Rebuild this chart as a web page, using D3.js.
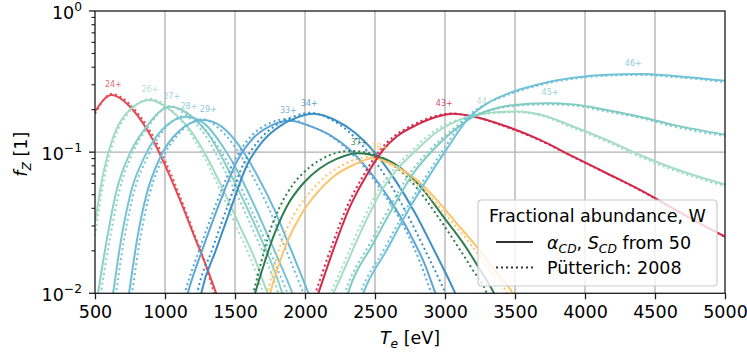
<!DOCTYPE html>
<html>
<head>
<meta charset="utf-8">
<script src="https://cdn.jsdelivr.net/npm/d3@7"></script>
<style>
    body { margin: 0; background: #fff; }
    svg { font-family: "DejaVu Sans", sans-serif; }
</style>
</head>
<body>
<div id="chart"></div>
<script>
// ---- data: [Te (eV), fractional abundance] ----
// cd = alpha_CD, S_CD from 50 (solid), pu = Puetterich 2008 (dotted)
const cd24 = [[500,0.194],[619,0.254],[771,0.199],[914,0.122],[1000,0.081],[1107,0.0459],[1214,0.0247],[1286,0.0164],[1364,0.0101],[1393,0.0084]];
const pu24 = [[500,0.187],[619,0.258],[786,0.199],[929,0.122],[1014,0.081],[1114,0.0466],[1214,0.0255],[1279,0.017],[1343,0.0106],[1364,0.009]];
const cd26 = [[500,0.0315],[559,0.0709],[631,0.129],[726,0.189],[893,0.234],[1036,0.199],[1179,0.144],[1298,0.0929],[1416,0.054],[1536,0.0297],[1636,0.0181],[1729,0.0102],[1750,0.009]];
const pu26 = [[500,0.0255],[564,0.0636],[636,0.122],[736,0.187],[893,0.238],[1029,0.206],[1164,0.144],[1279,0.0925],[1393,0.054],[1507,0.030],[1607,0.0181],[1700,0.0102],[1721,0.009]];
const cd27 = [[515,0.009],[524,0.0103],[584,0.0239],[655,0.054],[750,0.0983],[869,0.152],[1036,0.210],[1179,0.183],[1321,0.129],[1441,0.0789],[1559,0.0459],[1679,0.0252],[1798,0.0131],[1834,0.0103],[1853,0.009]];
const pu27 = [[537,0.009],[545,0.0103],[605,0.0239],[676,0.054],[768,0.0983],[882,0.152],[1036,0.212],[1150,0.183],[1293,0.129],[1412,0.0789],[1531,0.0459],[1650,0.0252],[1769,0.0131],[1805,0.0103],[1825,0.009]];
const cd28 = [[622,0.009],[629,0.01],[686,0.0239],[757,0.0523],[857,0.094],[979,0.144],[1155,0.178],[1286,0.158],[1407,0.112],[1521,0.0724],[1643,0.0409],[1764,0.022],[1886,0.0115],[1921,0.0094]];
const pu28 = [[643,0.009],[650,0.01],[707,0.0239],[779,0.0523],[879,0.094],[993,0.144],[1150,0.181],[1250,0.158],[1371,0.112],[1486,0.0724],[1607,0.0409],[1729,0.022],[1850,0.0115],[1886,0.0094]];
const cd29 = [[736,0.009],[743,0.01],[800,0.0239],[871,0.0514],[964,0.091],[1093,0.139],[1274,0.169],[1407,0.151],[1536,0.109],[1657,0.069],[1779,0.0396],[1900,0.0203],[2007,0.0111],[2043,0.009]];
const pu29 = [[757,0.009],[764,0.01],[821,0.0239],[892,0.0514],[985,0.091],[1110,0.139],[1270,0.171],[1371,0.151],[1500,0.109],[1621,0.069],[1743,0.0396],[1864,0.0203],[1971,0.0111],[2007,0.009]];
const cd33 = [[1150,0.009],[1166,0.0103],[1274,0.0213],[1393,0.0444],[1512,0.0853],[1631,0.126],[1750,0.153],[1893,0.167],[2036,0.153],[2179,0.132],[2321,0.104],[2464,0.0724],[2607,0.0459],[2750,0.0264],[2857,0.0159],[2929,0.0102],[2950,0.009]];
const pu33 = [[1129,0.009],[1145,0.0103],[1252,0.0213],[1371,0.0444],[1491,0.0853],[1609,0.128],[1729,0.157],[1879,0.172],[2014,0.156],[2157,0.135],[2300,0.105],[2443,0.0737],[2586,0.0467],[2729,0.0268],[2829,0.0159],[2900,0.0102],[2921,0.009]];
const cd34 = [[1250,0.009],[1262,0.0103],[1364,0.0203],[1479,0.0423],[1586,0.0811],[1693,0.118],[1821,0.153],[1936,0.175],[2059,0.187],[2214,0.169],[2357,0.137],[2500,0.0987],[2643,0.0636],[2786,0.0371],[2929,0.0196],[3036,0.012],[3086,0.0094]];
const pu34 = [[1221,0.009],[1233,0.0103],[1336,0.0203],[1450,0.0423],[1557,0.0811],[1664,0.119],[1793,0.155],[1914,0.178],[2036,0.190],[2179,0.172],[2314,0.139],[2450,0.1],[2586,0.0646],[2721,0.0377],[2857,0.0203],[2964,0.0122],[3014,0.0095]];
const cd37 = [[1629,0.009],[1643,0.01],[1702,0.0155],[1774,0.0252],[1869,0.0411],[1988,0.0602],[2107,0.0769],[2226,0.0895],[2369,0.0983],[2559,0.0905],[2702,0.0748],[2845,0.054],[2988,0.0349],[3131,0.0226],[3250,0.0147],[3357,0.0097],[3379,0.0087]];
const pu37 = [[1614,0.009],[1629,0.01],[1679,0.0155],[1736,0.0252],[1821,0.0411],[1921,0.0602],[2036,0.0785],[2164,0.094],[2321,0.102],[2500,0.0955],[2650,0.0785],[2793,0.0567],[2936,0.0365],[3071,0.0231],[3193,0.0149],[3300,0.0099],[3321,0.0087]];
const cd38 = [[1736,0.009],[1750,0.01],[1809,0.0155],[1869,0.0226],[1964,0.0349],[2084,0.0512],[2202,0.067],[2345,0.0811],[2488,0.0905],[2655,0.0789],[2798,0.0636],[2941,0.0459],[3084,0.0313],[3226,0.0214],[3369,0.0139],[3488,0.0097],[3507,0.0087]];
const pu38 = [[1714,0.009],[1729,0.01],[1779,0.0155],[1829,0.0226],[1914,0.0349],[2029,0.0512],[2150,0.0678],[2293,0.0832],[2450,0.0925],[2614,0.0811],[2757,0.0651],[2900,0.0474],[3043,0.0326],[3186,0.022],[3329,0.0142],[3443,0.0099],[3464,0.0087]];
const cd43 = [[2079,0.009],[2095,0.01],[2202,0.0203],[2321,0.0411],[2441,0.069],[2559,0.104],[2655,0.129],[2798,0.156],[2941,0.178],[3059,0.187],[3202,0.179],[3441,0.152],[3679,0.122],[3916,0.0929],[4155,0.0709],[4393,0.054],[4774,0.0331],[5000,0.0252]];
const pu43 = [[2058,0.009],[2074,0.01],[2181,0.0203],[2300,0.0411],[2420,0.069],[2538,0.104],[2634,0.129],[2777,0.157],[2920,0.179],[3036,0.188],[3186,0.180],[3429,0.152],[3671,0.122],[3914,0.0925],[4155,0.0707],[4393,0.0537],[4774,0.0329],[5000,0.0251]];
const cd44 = [[2179,0.009],[2202,0.01],[2416,0.0297],[2536,0.0512],[2655,0.0748],[2798,0.104],[2941,0.139],[3084,0.166],[3179,0.179],[3321,0.190],[3512,0.194],[3679,0.185],[3916,0.152],[4155,0.122],[4393,0.0955],[4631,0.0769],[5000,0.059]];
const pu44 = [[2157,0.009],[2180,0.01],[2393,0.0297],[2511,0.0512],[2629,0.0748],[2771,0.104],[2918,0.140],[3064,0.166],[3179,0.179],[3321,0.188],[3512,0.192],[3679,0.182],[3916,0.148],[4155,0.119],[4393,0.0925],[4631,0.0748],[5000,0.0572]];
const cd45 = [[2293,0.009],[2307,0.01],[2488,0.0226],[2631,0.0411],[2774,0.0709],[2916,0.104],[3059,0.141],[3179,0.173],[3321,0.199],[3464,0.214],[3726,0.222],[3916,0.218],[4155,0.199],[4393,0.178],[4631,0.156],[5000,0.133]];
const pu45 = [[2272,0.009],[2286,0.01],[2464,0.0226],[2607,0.0411],[2750,0.0709],[2893,0.104],[3039,0.141],[3164,0.175],[3321,0.197],[3464,0.211],[3726,0.218],[3916,0.214],[4155,0.194],[4393,0.175],[4631,0.152],[5000,0.130]];
const cd46 = [[2400,0.009],[2416,0.01],[2584,0.0203],[2726,0.0369],[2869,0.0636],[3012,0.105],[3164,0.172],[3293,0.219],[3441,0.258],[3679,0.304],[3916,0.336],[4155,0.354],[4393,0.358],[4631,0.347],[5000,0.321]];
const pu46 = [[2379,0.009],[2395,0.01],[2562,0.0203],[2705,0.0369],[2848,0.0636],[2991,0.105],[3143,0.172],[3279,0.216],[3441,0.253],[3679,0.299],[3916,0.331],[4155,0.348],[4393,0.352],[4631,0.341],[5000,0.314]];

const chargeStates = ['24+', '26+', '27+', '28+', '29+', '33+', '34+', '37+', '38+', '43+', '44+', '45+', '46+'];
const cdSeries = [cd24, cd26, cd27, cd28, cd29, cd33, cd34, cd37, cd38, cd43, cd44, cd45, cd46];
const puSeries = [pu24, pu26, pu27, pu28, pu29, pu33, pu34, pu37, pu38, pu43, pu44, pu45, pu46];
const labelTe = [631, 893, 1048, 1171, 1309, 1881, 2031, 2388, 2535, 2995, 3286, 3750, 4345];

const xTicks = [500, 1000, 1500, 2000, 2500, 3000, 3500, 4000, 4500, 5000];
const yTicks = [1, 0.1, 0.01];
const yTickExp = ['0', '\u22121', '\u22122'];
const legendTitle = 'Fractional abundance, W';

// ---- styles ----
const lineColors = ['#e34a53', '#a2dbc3', '#89cfc6', '#78c4d5', '#6bbad8', '#5ea6d4', '#3b8ec6',
                    '#2f7d50', '#fdc46a', '#d2294b', '#a4dcc5', '#7ecbc3', '#6fc2d8'];
const lineWidth = 2;
const dotDash = '2,3';

const width = 747, height = 352;
const margin = { top: 11, right: 22, bottom: 58.7, left: 95 };
const plotW = width - margin.left - margin.right;
const plotH = height - margin.top - margin.bottom;

const species = chargeStates.map((name, i) => ({
    name: name,
    cd: cdSeries[i],
    pu: puSeries[i],
    color: lineColors[i],
    labelTe: labelTe[i]
}));

const svg = d3.select('#chart').append('svg')
    .attr('width', width)
    .attr('height', height);

const g = svg.append('g')
    .attr('transform', `translate(${ margin.left }, ${ margin.top })`);

const scaleX = d3.scaleLinear().domain([500, 5000]).range([0, plotW]);
const scaleY = d3.scaleLog().domain([0.01, 1]).range([plotH, 0]);

// grid
g.append('g').selectAll('line')
    .data(xTicks.slice(1, -1))
    .enter()
    .append('line')
        .attr('x1', d => scaleX(d)).attr('x2', d => scaleX(d))
        .attr('y1', 0).attr('y2', plotH)
        .attr('stroke', '#b0b0b0').attr('stroke-width', 1.3);
g.append('g').selectAll('line')
    .data(yTicks.slice(1, -1))
    .enter()
    .append('line')
        .attr('x1', 0).attr('x2', plotW)
        .attr('y1', d => scaleY(d)).attr('y2', d => scaleY(d))
        .attr('stroke', '#b0b0b0').attr('stroke-width', 1.3);

// curves
svg.append('defs').append('clipPath').attr('id', 'plotClip')
    .append('rect').attr('width', plotW).attr('height', plotH);

const line = d3.line()
    .x(d => scaleX(d[0]))
    .y(d => scaleY(d[1]))
    .curve(d3.curveMonotoneX);

const curves = g.append('g').attr('clip-path', 'url(#plotClip)');
species.forEach(s => {
    curves.append('path')
        .attr('d', line(s.cd))
        .attr('fill', 'none')
        .attr('stroke', s.color)
        .attr('stroke-width', lineWidth);
    curves.append('path')
        .attr('d', line(s.pu))
        .attr('fill', 'none')
        .attr('stroke', s.color)
        .attr('stroke-width', lineWidth)
        .attr('stroke-dasharray', dotDash);
});

// charge state labels above each peak
g.append('g').selectAll('text')
    .data(species)
    .enter()
    .append('text')
        .attr('x', d => scaleX(d.labelTe))
        .attr('y', d => scaleY(d3.max(d.cd, p => p[1])) - 8)
        .attr('text-anchor', 'middle')
        .attr('font-size', 8)
        .attr('fill', d => d.color)
        .attr('fill-opacity', 0.85)
        .text(d => d.name);

// axes
const axisColor = '#1a1a1a';
const xAxis = d3.axisBottom(scaleX).tickValues(xTicks).tickSize(6).tickPadding(6).tickFormat(d3.format('d'));
const xg = g.append('g')
    .attr('transform', `translate(0, ${ plotH })`)
    .call(xAxis);
xg.selectAll('text').attr('font-size', 17.5).attr('fill', '#000').attr('dy', '0.75em').attr('font-family', '"DejaVu Sans"');

const minorY = [];
[0.01, 0.1].forEach(base => { for (let k = 2; k <= 9; k++) minorY.push(base * k); });
const yg = g.append('g');
yg.selectAll('line.minor')
    .data(minorY)
    .enter()
    .append('line')
        .attr('x1', -3.5).attr('x2', 0)
        .attr('y1', d => scaleY(d)).attr('y2', d => scaleY(d))
        .attr('stroke', axisColor).attr('stroke-width', 1.1);
yg.selectAll('line.major')
    .data(yTicks)
    .enter()
    .append('line')
        .attr('x1', -6).attr('x2', 0)
        .attr('y1', d => scaleY(d)).attr('y2', d => scaleY(d))
        .attr('stroke', axisColor).attr('stroke-width', 1.3);
const yLabels = yg.selectAll('text')
    .data(yTicks)
    .enter()
    .append('text')
        .attr('x', -13)
        .attr('y', d => scaleY(d) + 8)
        .attr('text-anchor', 'end')
        .attr('font-size', 17.5)
        .attr('fill', '#000');
yLabels.append('tspan').text('10');
yLabels.append('tspan')
    .attr('dy', -8.5)
    .attr('font-size', 12.3)
    .text((d, i) => yTickExp[i]);

xg.select('.domain').remove();
xg.selectAll('line').attr('stroke', axisColor).attr('stroke-width', 1.3);

// spines
g.append('rect')
    .attr('width', plotW).attr('height', plotH)
    .attr('fill', 'none')
    .attr('stroke', axisColor)
    .attr('stroke-width', 1.3);

// axis titles
const xTitle = svg.append('text')
    .attr('x', margin.left + plotW / 2)
    .attr('y', 344)
    .attr('text-anchor', 'middle')
    .attr('font-size', 17.5);
xTitle.append('tspan').attr('font-style', 'italic').text('T');
xTitle.append('tspan').attr('font-style', 'italic').attr('font-size', 12.3).attr('dy', 4).text('e');
xTitle.append('tspan').attr('dy', -4).text(' [eV]');

const yTitle = svg.append('text')
    .attr('transform', `translate(27, ${ margin.top + plotH / 2 + 2 }) rotate(-90)`)
    .attr('text-anchor', 'middle')
    .attr('font-size', 17.5);
yTitle.append('tspan').attr('font-style', 'italic').text('f');
yTitle.append('tspan').attr('font-style', 'italic').attr('font-size', 12.3).attr('dy', 4).text('Z');
yTitle.append('tspan').attr('dy', -4).text(' [1]');

// legend
const legend = svg.append('g').attr('transform', 'translate(478, 200)');
legend.append('rect')
    .attr('width', 239).attr('height', 86)
    .attr('rx', 3.5)
    .attr('fill', '#fff').attr('fill-opacity', 0.8)
    .attr('stroke', '#cccccc').attr('stroke-width', 1.2);
legend.append('text')
    .attr('x', 119.5).attr('y', 21.5)
    .attr('text-anchor', 'middle')
    .attr('font-size', 17.5)
    .text(legendTitle);
legend.append('line')
    .attr('x1', 18).attr('x2', 55).attr('y1', 42).attr('y2', 42)
    .attr('stroke', '#333').attr('stroke-width', lineWidth);
legend.append('line')
    .attr('x1', 18).attr('x2', 55).attr('y1', 67.5).attr('y2', 67.5)
    .attr('stroke', '#333').attr('stroke-width', lineWidth)
    .attr('stroke-dasharray', dotDash);
const entry1 = legend.append('text')
    .attr('x', 69).attr('y', 49)
    .attr('font-size', 17.5);
entry1.append('tspan').attr('font-style', 'italic').text('\u03b1');
entry1.append('tspan').attr('font-style', 'italic').attr('font-size', 12.3).attr('dy', 4).text('CD');
entry1.append('tspan').attr('dy', -4).text(', ');
entry1.append('tspan').attr('font-style', 'italic').text('S');
entry1.append('tspan').attr('font-style', 'italic').attr('font-size', 12.3).attr('dy', 4).text('CD');
entry1.append('tspan').attr('dy', -4).text(' from 50');
legend.append('text')
    .attr('x', 69).attr('y', 74)
    .attr('font-size', 17.5)
    .text('P\u00fctterich: 2008');
</script>
</body>
</html>
